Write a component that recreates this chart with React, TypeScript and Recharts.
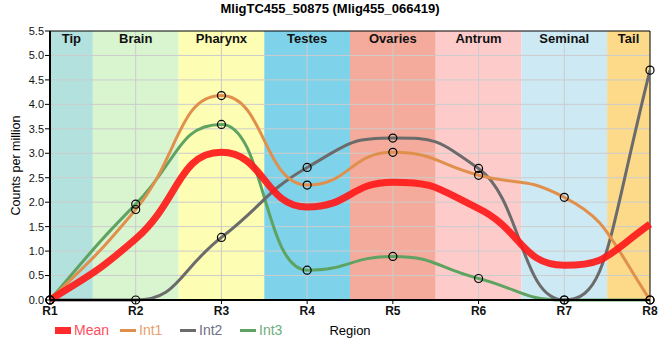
import React from "react";
import {
  ComposedChart,
  Line,
  XAxis,
  YAxis,
  ReferenceArea,
  ReferenceLine,
  Legend,
} from "recharts";

const regions = ["R1", "R2", "R3", "R4", "R5", "R6", "R7", "R8"];
const meanValues = [0, 1.25, 3.02, 1.9, 2.41, 1.87, 0.71, 1.55];
const int1Values = [0, 1.85, 4.18, 2.35, 3.02, 2.55, 2.1, 0];
const int2Values = [0, 0, 1.28, 2.71, 3.31, 2.69, 0, 4.7];
const int3Values = [0, 1.96, 3.59, 0.61, 0.89, 0.44, 0, 0];
const bandNames = ["Tip", "Brain", "Pharynx", "Testes", "Ovaries", "Antrum", "Seminal", "Tail"];
const bandColors = ["#b3e2de", "#d8f5d0", "#fdfdb4", "#7ed3ea", "#f5ab9c", "#fecbcb", "#cdeaf4", "#fdd98a"];
const yTicks = [0, 0.5, 1, 1.5, 2, 2.5, 3, 3.5, 4, 4.5, 5, 5.5];
const title = "MligTC455_50875 (Mlig455_066419)";

const data = regions.map((r, i) => ({
  pos: i + 1,
  region: r,
  Mean: meanValues[i],
  Int1: int1Values[i],
  Int2: int2Values[i],
  Int3: int3Values[i],
}));

const FONT = "'Liberation Sans', Arial, sans-serif";

// Monotone-tangent cubic curve with longer handles (flatter plateaus, like the reference smoothing)
function makeCurve(f: number) {
  return function (context: any) {
    let xs: number[] = [];
    let ys: number[] = [];
    return {
      areaStart() {},
      areaEnd() {},
      lineStart() {
        xs = [];
        ys = [];
      },
      point(x: number, y: number) {
        xs.push(+x);
        ys.push(+y);
      },
      lineEnd() {
        const n = xs.length;
        if (n === 0) return;
        context.moveTo(xs[0], ys[0]);
        if (n === 1) return;
        if (n === 2) {
          context.lineTo(xs[1], ys[1]);
          return;
        }
        const s: number[] = [];
        for (let i = 0; i < n - 1; i++) s[i] = (ys[i + 1] - ys[i]) / (xs[i + 1] - xs[i]);
        const t: number[] = new Array(n).fill(0);
        for (let i = 1; i < n - 1; i++) {
          const h0 = xs[i] - xs[i - 1];
          const h1 = xs[i + 1] - xs[i];
          const p = (s[i - 1] * h1 + s[i] * h0) / (h0 + h1);
          t[i] =
            (Math.sign(s[i - 1]) + Math.sign(s[i])) *
              Math.min(Math.abs(s[i - 1]), Math.abs(s[i]), 0.5 * Math.abs(p)) || 0;
        }
        t[0] = (3 * s[0] - t[1]) / 2;
        t[n - 1] = (3 * s[n - 2] - t[n - 2]) / 2;
        for (let i = 0; i < n - 1; i++) {
          const dx = (xs[i + 1] - xs[i]) * f;
          context.bezierCurveTo(
            xs[i] + dx,
            ys[i] + dx * t[i],
            xs[i + 1] - dx,
            ys[i + 1] - dx * t[i + 1],
            xs[i + 1],
            ys[i + 1]
          );
        }
      },
    };
  };
}

const smoothCurve = makeCurve(0.5);

const legendItems = [
  { name: "Mean", color: "#ff2a2a", text: "#ff4d5c", thick: true, width: 65 },
  { name: "Int1", color: "#e0904c", text: "#e6a070", thick: false, width: 60 },
  { name: "Int2", color: "#6b6b6b", text: "#707086", thick: false, width: 60 },
  { name: "Int3", color: "#5ea362", text: "#6eac80", thick: false, width: 60 },
];

const renderLegend = () => (
  <div style={{ display: "flex", alignItems: "center", fontFamily: FONT, fontSize: 14, height: 20 }}>
    {legendItems.map((it) => (
      <div key={it.name} style={{ display: "flex", alignItems: "center", width: it.width }}>
        <div
          style={{
            width: 16,
            height: it.thick ? 7 : 3,
            background: it.color,
            marginRight: 3,
          }}
        />
        <span style={{ color: it.text }}>{it.name}</span>
      </div>
    ))}
  </div>
);

const dotStyle = { r: 4, fill: "none", stroke: "#000", strokeWidth: 1.2 };

export default function App() {
  return (
    <div
      style={{
        position: "absolute",
        left: 0,
        top: 0,
        width: 660,
        height: 360,
        background: "#fff",
        fontFamily: FONT,
      }}
    >
      <div
        style={{
          position: "absolute",
          left: 0,
          top: 1,
          width: 660,
          textAlign: "center",
          fontWeight: "bold",
          fontSize: 13,
          color: "#000",
        }}
      >
        {title}
      </div>
      <ComposedChart
        width={660}
        height={360}
        data={data}
        margin={{ top: 31, right: 10, bottom: 20, left: 10 }}
      >
        {bandNames.map((name, i) => (
          <ReferenceArea
            key={name}
            x1={Math.max(1, i + 0.5)}
            x2={Math.min(8, i + 1.5)}
            y1={0}
            y2={5.5}
            fill={bandColors[i]}
            fillOpacity={1}
            stroke="none"
            label={{
              value: name,
              position: "insideTop",
              offset: 3,
              fontSize: 13,
              fontWeight: "bold",
              fill: "#111",
              fontFamily: FONT,
            }}
          />
        ))}
        {yTicks.slice(1, -1).map((t) => (
          <ReferenceLine key={"y" + t} y={t} stroke="#cccccc" strokeWidth={1} />
        ))}
        {regions.slice(1, -1).map((r, i) => (
          <ReferenceLine key={"x" + r} x={i + 2} stroke="#cccccc" strokeWidth={1} />
        ))}
        <ReferenceLine y={5.5} stroke="#000" strokeWidth={1} />
        <ReferenceLine x={8} stroke="#000" strokeWidth={1} />
        <XAxis
          dataKey="pos"
          type="number"
          domain={[1, 8]}
          ticks={[1, 2, 3, 4, 5, 6, 7, 8]}
          tickFormatter={(v) => regions[v - 1]}
          height={40}
          tickSize={4}
          tickMargin={2}
          axisLine={{ stroke: "#000", strokeWidth: 2 }}
          tickLine={{ stroke: "#000" }}
          tick={{ fontSize: 12, fontWeight: "bold", fill: "#111", fontFamily: FONT }}
          interval={0}
          label={{
            value: "Region",
            position: "insideBottom",
            offset: 5,
            fontSize: 13,
            fill: "#000",
            fontFamily: FONT,
          }}
        />
        <YAxis
          type="number"
          domain={[0, 5.5]}
          ticks={yTicks}
          tickFormatter={(v) => Number(v).toFixed(1)}
          width={40}
          tickSize={5}
          tickMargin={1}
          axisLine={{ stroke: "#000", strokeWidth: 2 }}
          tickLine={{ stroke: "#000" }}
          tick={{ fontSize: 11, fill: "#111", fontFamily: FONT }}
          interval={0}
          label={{
            value: "Counts per million",
            angle: -90,
            position: "insideLeft",
            offset: 6,
            fontSize: 12.5,
            fill: "#000",
            fontFamily: FONT,
            style: { textAnchor: "middle" },
          }}
        />
        <Line
          dataKey="Int3"
          type={smoothCurve as any}
          stroke="#5ea362"
          strokeWidth={3}
          dot={dotStyle}
          activeDot={false}
          isAnimationActive={false}
        />
        <Line
          dataKey="Int2"
          type={smoothCurve as any}
          stroke="#6b6b6b"
          strokeWidth={3}
          dot={dotStyle}
          activeDot={false}
          isAnimationActive={false}
        />
        <Line
          dataKey="Int1"
          type={smoothCurve as any}
          stroke="#e0904c"
          strokeWidth={3}
          dot={dotStyle}
          activeDot={false}
          isAnimationActive={false}
        />
        <Line
          dataKey="Mean"
          type={smoothCurve as any}
          stroke="#ff1a1a"
          strokeOpacity={0.92}
          strokeWidth={7}
          dot={false}
          activeDot={false}
          isAnimationActive={false}
        />
        <Legend
          layout="vertical"
          align="center"
          verticalAlign="middle"
          wrapperStyle={{ left: 55, top: 320, width: 300, height: 20 }}
          content={renderLegend}
        />
      </ComposedChart>
    </div>
  );
}
